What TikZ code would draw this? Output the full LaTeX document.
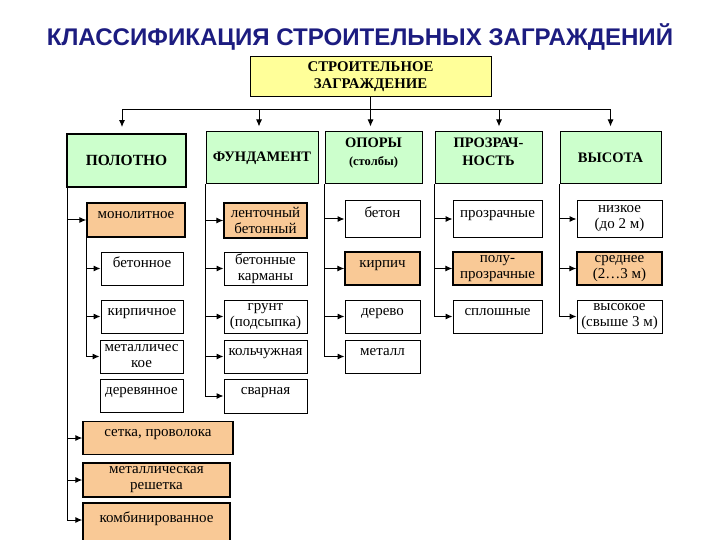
\documentclass[tikz,border=0pt]{standalone}
\usepackage{fontspec}
\setmainfont{Liberation Serif}
\newfontfamily\arialf{Liberation Sans}
\usetikzlibrary{arrows.meta}
\definecolor{grn}{HTML}{CCFFCC}
\definecolor{ylw}{HTML}{FFFF99}
\definecolor{org}{HTML}{F9C996}
\definecolor{navy}{HTML}{1C1C80}
\begin{document}
\begin{tikzpicture}[x=1pt,y=-1pt,
  box/.style={draw=black, line width=1pt, inner sep=0pt, align=center},
  wh/.style 2 args={minimum width=#1pt, minimum height=#2pt},
  cat/.style={box, fill=grn, font=\fontsize{14.5}{18}\selectfont\bfseries},
  sub/.style={box, fill=white, font=\fontsize{15}{16}\selectfont},
  hl/.style={fill=org, line width=1.4pt},
  t1/.style={text height=15pt, text depth=18pt},
  conn/.style={line width=1pt},
  arr/.style={conn, -{Latex[length=7pt,width=6pt]}},
]
\useasboundingbox (0,0) rectangle (720,540);
\clip (0,0) rectangle (720,540);

\node[text=navy, font=\arialf\bfseries\fontsize{24.1}{28}\selectfont] (title) at (360,37) {КЛАССИФИКАЦИЯ СТРОИТЕЛЬНЫХ ЗАГРАЖДЕНИЙ};

\node[box, fill=ylw, wh={241}{40}, font=\fontsize{14.8}{17}\selectfont\bfseries] (top) at (370.5,77) {СТРОИТЕЛЬНОЕ\\ЗАГРАЖДЕНИЕ};

% categories
\node[cat, wh={119}{53}, line width=1.8pt, font=\fontsize{15.5}{18}\selectfont\bfseries] (pol) at (126.5,160.5) {ПОЛОТНО};
\node[cat, wh={112}{52}] (fund) at (262,158) {ФУНДАМЕНТ};
\node[cat, wh={97}{52}, text depth=12pt] (opor) at (373.5,158) {ОПОРЫ\\{\fontsize{12.5}{18}\selectfont(столбы)}};
\node[cat, wh={107}{52}, text depth=12pt] (proz) at (488.5,158) {ПРОЗРАЧ-\\НОСТЬ};
\node[cat, wh={101}{52}] (vys) at (610.5,158) {ВЫСОТА};

% ПОЛОТНО
\node[sub, hl, t1, wh={98}{34}] (monolit) at (136,220) {монолитное};
\node[sub, t1, wh={82}{33}] (betonnoe) at (142,268.5) {бетонное};
\node[sub, t1, wh={82}{33}] (kirpichnoe) at (142,316.5) {кирпичное};
\node[sub, wh={83}{33}] (metallich) at (141.5,356.5) {металличес\\кое};
\node[sub, t1, wh={83}{32}] (derev) at (141.5,396) {деревянное};
\node[sub, hl, t1, wh={150}{32}] (setka) at (158,438) {сетка, проволока};
\node[sub, hl, wh={147}{34}] (reshetka) at (156.5,480) {металлическая\\решетка};
\node[sub, hl, t1, wh={147}{42}] (kombi) at (156.5,524) {комбинированное};

% ФУНДАМЕНТ
\node[sub, hl, wh={83}{35}] (lent) at (265.5,220.5) {ленточный\\бетонный};
\node[sub, wh={83}{33}] (karm) at (265.5,268.5) {бетонные\\карманы};
\node[sub, wh={83}{33}] (grunt) at (265.5,316.5) {грунт\\(подсыпка)};
\node[sub, t1, wh={83}{33}] (kolch) at (265.5,356.5) {кольчужная};
\node[sub, t1, wh={83}{34}] (svar) at (265.5,396) {сварная};

% ОПОРЫ
\node[sub, t1, wh={75}{36}] (beton) at (382.5,219) {бетон};
\node[sub, hl, t1, wh={75}{33}] (kirpich) at (382.5,268.5) {кирпич};
\node[sub, t1, wh={75}{33}] (derevo) at (382.5,316.5) {дерево};
\node[sub, t1, wh={75}{33}] (metall) at (382.5,356.5) {металл};

% ПРОЗРАЧНОСТЬ
\node[sub, t1, wh={89}{36}] (prozr) at (497.5,219) {прозрачные};
\node[sub, hl, wh={89}{33}] (polu) at (497.5,268.5) {полу-\\прозрачные};
\node[sub, t1, wh={89}{33}] (splosh) at (497.5,316.5) {сплошные};

% ВЫСОТА
\node[sub, wh={85}{36}] (nizk) at (619.5,219) {низкое\\(до 2 м)};
\node[sub, hl, wh={85}{33}] (sred) at (619.5,268.5) {среднее\\(2…3 м)};
\node[sub, wh={85}{33}] (vys3) at (619.5,316.5) {высокое\\(свыше 3 м)};

% top bus
\coordinate (bus) at ([yshift=-12pt]top.south);
\draw[conn] (top.south) -- (bus);
\draw[arr, shorten >=6pt] (bus) -| ([xshift=-4.5pt]pol.north);
\draw[arr, shorten >=5pt] (bus) -| ([xshift=-3pt]fund.north);
\draw[arr, shorten >=5pt] (bus) -| ([xshift=-3pt]opor.north);
\draw[arr, shorten >=5pt] (bus) -| ([xshift=10.5pt]proz.north);
\draw[arr, shorten >=5pt] (bus) -| (vys.north);

% ПОЛОТНО links
\draw[arr] ([xshift=1pt]pol.south west) |- (monolit.west);
\draw[arr] ([xshift=1pt]pol.south west) |- (setka.west);
\draw[arr] ([xshift=1pt]pol.south west) |- (reshetka.west);
\draw[arr] ([xshift=1pt]pol.south west) |- ([yshift=4pt]kombi.west);
\draw[arr] (monolit.south west) |- (betonnoe.west);
\draw[arr] (monolit.south west) |- (kirpichnoe.west);
\draw[arr] (monolit.south west) |- (metallich.west);

% ФУНДАМЕНТ links
\foreach \n in {lent,karm,grunt,kolch,svar}
  \draw[arr] (fund.south west) |- (\n.west);
% ОПОРЫ links
\foreach \n in {beton,kirpich,derevo,metall}
  \draw[arr] (opor.south west) |- (\n.west);
% ПРОЗРАЧНОСТЬ links
\foreach \n in {prozr,polu,splosh}
  \draw[arr] (proz.south west) |- (\n.west);
% ВЫСОТА links
\foreach \n in {nizk,sred,vys3}
  \draw[arr] (vys.south west) |- (\n.west);
\end{tikzpicture}
\end{document}
